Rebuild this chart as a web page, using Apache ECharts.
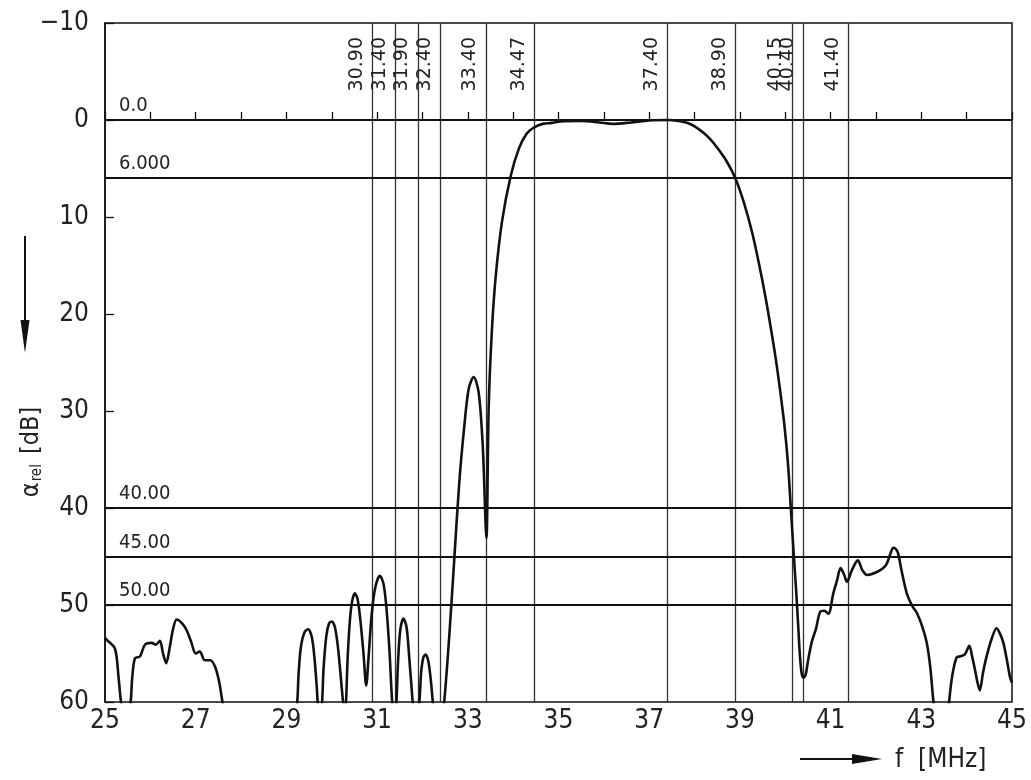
<!DOCTYPE html>
<html>
<head>
<meta charset="utf-8">
<script src="https://cdn.jsdelivr.net/npm/echarts@6/dist/echarts.min.js"></script>
<style>
  html, body { margin: 0; padding: 0; background: #fff; }
  #container { width: 1031px; height: 780px; }
</style>
</head>
<body>
<div id="container"></div>
<script>
// Frequenz in MHz
var freq = [
    25.00, 25.04, 25.22, 25.30, 25.37, 25.45, 25.55, 25.60, 25.66, 25.77, 25.88, 26.03, 26.12, 26.21, 26.28,
    26.35, 26.43, 26.50, 26.58, 26.70, 26.80, 26.90, 27.00, 27.09, 27.20, 27.32, 27.43, 27.52, 27.61, 27.70,
    29.15, 29.23, 29.27, 29.32, 29.40, 29.48, 29.56, 29.62, 29.67, 29.70, 29.74, 29.78, 29.82, 29.88, 29.94,
    30.00, 30.07, 30.14, 30.21, 30.26, 30.285, 30.31, 30.35, 30.40, 30.45, 30.51, 30.57, 30.63, 30.70, 30.76,
    30.81, 30.88, 30.96, 31.06, 31.14, 31.20, 31.27, 31.34, 31.38, 31.42, 31.46, 31.51, 31.58, 31.65, 31.71,
    31.76, 31.80, 31.865, 31.93, 31.97, 32.02, 32.07, 32.13, 32.19, 32.24, 32.30, 32.42, 32.48, 32.59, 32.70,
    32.81, 32.92, 33.02, 33.13, 33.24, 33.33, 33.41, 33.46, 33.53, 33.62, 33.76, 33.95, 34.13, 34.30, 34.45,
    34.65, 34.85, 35.05, 35.50, 35.90, 36.20, 36.60, 37.00, 37.40, 37.65, 37.85, 38.02, 38.19, 38.35, 38.49,
    38.70, 38.90, 39.08, 39.27, 39.42, 39.57, 39.68, 39.79, 39.89, 39.98, 40.06, 40.12, 40.19, 40.24, 40.29,
    40.32, 40.36, 40.40, 40.45, 40.50, 40.58, 40.68, 40.77, 40.86, 40.95, 41.06, 41.14, 41.22, 41.30, 41.36,
    41.47, 41.60, 41.70, 41.80, 42.02, 42.22, 42.32, 42.38, 42.45, 42.49, 42.58, 42.68, 42.80, 42.90, 43.02,
    43.12, 43.20, 43.28, 43.35, 43.55, 43.60, 43.66, 43.71, 43.78, 43.85, 43.96, 44.06, 44.12, 44.18, 44.24,
    44.29, 44.36, 44.44, 44.55, 44.66, 44.74, 44.81, 44.88, 44.96, 45.00
];
// Dämpfung in dB
var atten = [
    53.4, 53.6, 54.5, 57.5, 60.5, 61.0, 60.5, 57.5, 55.5, 55.3, 54.1, 53.9, 54.1, 53.7, 55.0,
    56.0, 54.3, 52.5, 51.5, 51.9, 52.6, 53.8, 55.0, 54.8, 55.7, 55.7, 56.4, 58.0, 60.5, 62.0,
    62.0, 60.5, 57.0, 54.3, 52.8, 52.5, 53.3, 55.5, 58.5, 60.5, 61.0, 60.5, 56.5, 53.2, 51.9,
    51.7, 52.3, 54.5, 58.0, 60.5, 61.0, 60.5, 55.5, 51.6, 49.6, 48.8, 49.4, 51.5, 55.0, 58.3,
    55.5, 51.0, 48.2, 47.0, 47.8, 50.0, 54.5, 60.5, 61.0, 60.5, 56.0, 52.6, 51.4, 52.3, 55.5,
    58.5, 60.5, 61.0, 60.0, 57.0, 55.4, 55.1, 55.8, 58.0, 60.5, 62.0, 62.0, 60.0, 53.3, 45.4,
    37.5, 31.7, 27.7, 26.5, 28.1, 33.6, 43.1, 29.7, 21.8, 15.9, 10.3, 5.7, 2.9, 1.4, 0.8,
    0.4, 0.3, 0.15, 0.1, 0.25, 0.4, 0.25, 0.05, 0.0, 0.1, 0.3, 0.7, 1.3, 2.0, 2.8,
    4.2, 6.0, 8.4, 11.6, 14.8, 18.4, 21.4, 24.6, 28.0, 31.4, 35.4, 39.8, 45.0, 48.5, 52.5,
    55.0, 57.0, 57.5, 57.2, 55.8, 53.9, 52.4, 50.7, 50.6, 50.9, 48.8, 47.5, 46.2, 46.9, 47.6,
    46.4, 45.4, 46.4, 46.9, 46.6, 45.9, 44.7, 44.1, 44.3, 44.7, 46.8, 48.8, 50.1, 50.8, 52.2,
    53.9, 56.5, 60.5, 62.0, 62.0, 60.5, 58.0, 56.6, 55.4, 55.3, 55.1, 54.2, 55.3, 56.6, 58.0,
    58.8, 57.0, 55.3, 53.5, 52.4, 53.0, 53.9, 55.5, 57.5, 58.0
];
// Markierungen
var vLines = [30.90, 31.40, 31.90, 32.40, 33.40, 34.47, 37.40, 38.90, 40.15, 40.40, 41.40];
var hLines = [0, 6, 40, 45, 50];
var hLabels = ['0.0', '6.000', '40.00', '45.00', '50.00'];
var xMin = 25, xMax = 45, yMin = -10, yMax = 60;

var narrow = "'Liberation Sans Narrow', 'DejaVu Sans Condensed', sans-serif";

var points = freq.map(function (f, i) { return [f, atten[i]]; });

var mlData = [];
vLines.forEach(function (v) {
    mlData.push([
        {coord: [v, yMax], label: {formatter: v.toFixed(2), position: 'insideEndTop', distance: [14, 6],
            fontFamily: 'DejaVu Sans', fontSize: 19, color: '#222'},
            lineStyle: {width: 1.3, color: '#333', type: 'solid'}},
        {coord: [v, yMin]}
    ]);
});
hLines.forEach(function (h, i) {
    mlData.push([
        {coord: [xMin, h], label: {formatter: hLabels[i], position: 'insideStartTop', distance: [14, 4],
            fontFamily: narrow, fontSize: 20, color: '#222'},
            lineStyle: {width: 2, color: '#111', type: 'solid'}},
        {coord: [xMax, h]}
    ]);
});

var myChart = echarts.init(document.getElementById('container'));
var option = {
    backgroundColor: '#ffffff',
    animation: false,
    grid: {left: 105, right: 19, top: 23, bottom: 78, show: true, borderColor: '#111', borderWidth: 1.5},
    xAxis: {
        type: 'value', min: xMin, max: xMax, interval: 1,
        axisLine: {lineStyle: {color: '#111', width: 1.5}},
        axisTick: {inside: true, length: 8, lineStyle: {color: '#111', width: 1.3}},
        axisLabel: {
            margin: 6, fontFamily: narrow, fontSize: 26, color: '#222',
            formatter: function (v) { return v % 2 === 1 ? String(v) : ''; }
        },
        splitLine: {show: false}
    },
    yAxis: {
        type: 'value', inverse: true, min: yMin, max: yMax, interval: 10,
        axisLine: {lineStyle: {color: '#111', width: 1.5}},
        axisTick: {inside: true, length: 9, lineStyle: {color: '#111', width: 1.3}},
        axisLabel: {
            margin: 16, fontFamily: narrow, fontSize: 26, color: '#222',
            formatter: function (v) { return v < 0 ? '\u2212' + (-v) : String(v); }
        },
        splitLine: {show: false}
    },
    graphic: [
        {type: 'line', shape: {x1: 25, y1: 236, x2: 25, y2: 330}, style: {stroke: '#111', lineWidth: 2}},
        {type: 'polygon', shape: {points: [[20.5, 320], [29.5, 320], [25, 353]]}, style: {fill: '#111'}},
        {type: 'text', x: 31, y: 452, rotation: Math.PI / 2,
            style: {text: '{a|\u03b1}{s|rel}   {a|[dB]}', align: 'center', verticalAlign: 'middle',
                rich: {
                    a: {fontFamily: narrow, fontSize: 25, fill: '#222'},
                    s: {fontFamily: narrow, fontSize: 15, fill: '#222', padding: [12, 0, 0, 1]}
                }}},
        {type: 'line', shape: {x1: 800, y1: 759, x2: 860, y2: 759}, style: {stroke: '#111', lineWidth: 2}},
        {type: 'polygon', shape: {points: [[852, 754], [852, 764], [882, 759]]}, style: {fill: '#111'}},
        {type: 'text', x: 895, y: 760,
            style: {text: 'f  [MHz]', fontFamily: narrow, fontSize: 26, fill: '#222', verticalAlign: 'middle'}}
    ],
    series: [{
        name: 'Dämpfung',
        type: 'line',
        data: points,
        showSymbol: false,
        smooth: 0.3,
        clip: true,
        lineStyle: {color: '#111', width: 2.6},
        markLine: {
            silent: true,
            symbol: ['none', 'none'],
            animation: false,
            data: mlData
        },
        z: 5
    }]
};
myChart.setOption(option);
</script>
</body>
</html>
